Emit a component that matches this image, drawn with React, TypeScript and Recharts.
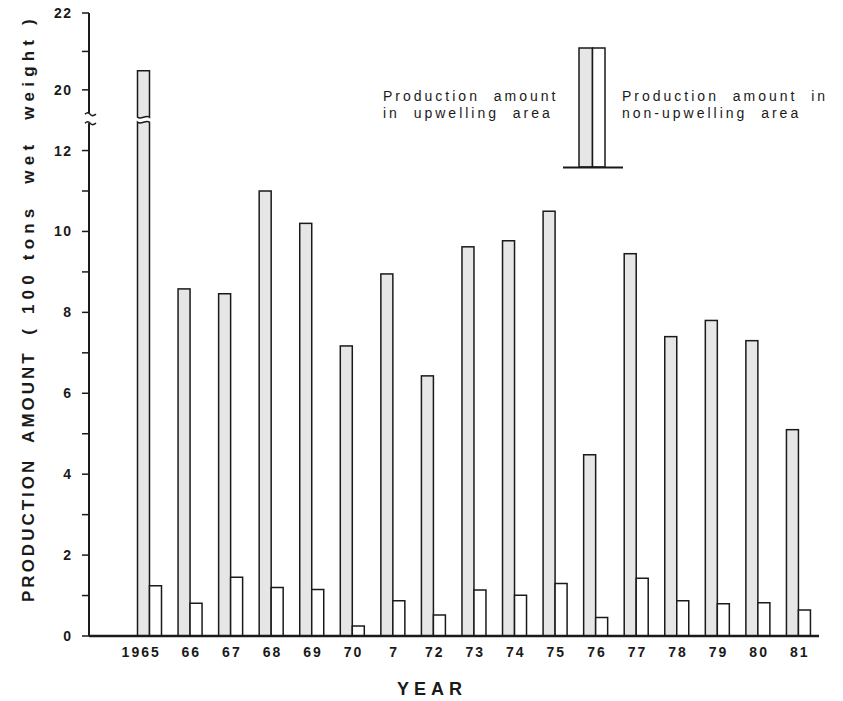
import React from 'react';
import { BarChart, Bar, XAxis, YAxis, Legend } from 'recharts';

const years = ['1965', '66', '67', '68', '69', '70', '7', '72', '73', '74', '75', '76', '77', '78', '79', '80', '81'];
const upwelling = [20.5, 8.58, 8.46, 11.0, 10.2, 7.17, 8.95, 6.43, 9.62, 9.77, 10.5, 4.48, 9.45, 7.4, 7.8, 7.3, 5.1];
const nonUpwelling = [1.24, 0.81, 1.45, 1.2, 1.15, 0.25, 0.87, 0.52, 1.14, 1.01, 1.3, 0.46, 1.43, 0.87, 0.8, 0.82, 0.64];
const yTicks = [0, 1, 2, 3, 4, 5, 6, 7, 8, 9, 10, 11, 12, 20, 21, 22];

// the axis is broken between 12 and 20
const BREAK_AT = 12.8;
const toAxis = (v: number) => (v <= 13 ? v : 13.5 + (v - 20) * 0.95);

const UP_FILL = '#e6e6e6';
const INK = '#1a1a1a';
const FONT = '"Liberation Sans", Arial, sans-serif';

const data = years.map((year, i) => ({
  year,
  up: upwelling[i],
  upAxis: toAxis(upwelling[i]),
  non: nonUpwelling[i],
}));

const tickLabel = new Map(yTicks.map((v) => [toAxis(v), v]));

function YTick(props: any) {
  const { x, y, payload } = props;
  const axisX = x + 18;
  const v = payload.value;
  if (v === BREAK_AT) {
    return (
      <g>
        <rect x={axisX - 4} y={y - 5} width={8} height={10} fill="#fff" />
        <path d={`M${axisX - 4},${y - 4} q3,-3 5,0 t6,0`} stroke={INK} strokeWidth={1.5} fill="none" />
        <path d={`M${axisX - 4},${y + 5} q3,-3 5,0 t6,0`} stroke={INK} strokeWidth={1.5} fill="none" />
      </g>
    );
  }
  const raw = tickLabel.get(v);
  const showLabel = raw !== undefined && raw % 2 === 0;
  return (
    <g>
      <line x1={axisX - 7} x2={axisX} y1={y} y2={y} stroke={INK} strokeWidth={1.5} />
      {showLabel && (
        <text x={x + 1.5} y={y + 5} textAnchor="end" fontFamily={FONT} fontWeight="bold" fontSize={14} letterSpacing={1.5} fill={INK}>
          {raw}
        </text>
      )}
    </g>
  );
}

function XTick(props: any) {
  const { x, y, payload } = props;
  const label = String(payload.value);
  if (label.length === 4) {
    return (
      <text x={x + 11} y={y + 21} textAnchor="end" fontFamily={FONT} fontWeight="bold" fontSize={14} letterSpacing={2} fill={INK}>
        {label}
      </text>
    );
  }
  return (
    <text x={x + 1} y={y + 21} textAnchor="middle" fontFamily={FONT} fontWeight="bold" fontSize={14} letterSpacing={2} fill={INK}>
      {label}
    </text>
  );
}

function BrokenBar(props: any) {
  const { x, y, width, height, payload, fill } = props;
  if (!height || height <= 0) return null;
  if (payload.up <= 13) {
    return <rect x={x} y={y} width={width} height={height} fill={fill} stroke={INK} strokeWidth={1.5} />;
  }
  const perUnit = height / payload.upAxis;
  const bottom = y + height;
  const by = bottom - BREAK_AT * perUnit;
  const top1 = by - 1;
  const top2 = by + 4;
  const wave = (yy: number) => `C${x + width * 0.7},${yy - 3} ${x + width * 0.3},${yy + 3} ${x},${yy}`;
  return (
    <g>
      <path d={`M${x},${y} L${x + width},${y} L${x + width},${top1} ${wave(top1)} Z`} fill={fill} stroke={INK} strokeWidth={1.5} />
      <path d={`M${x},${bottom} L${x + width},${bottom} L${x + width},${top2} ${wave(top2)} Z`} fill={fill} stroke={INK} strokeWidth={1.5} />
    </g>
  );
}

function LegendKey() {
  const t = { fontFamily: FONT, fontSize: 14, letterSpacing: 3, fill: INK, style: { whiteSpace: 'pre' as const } };
  return (
    <svg width={470} height={140}>
      <text x={13} y={61} {...t}>Production  amount</text>
      <text x={13} y={78} {...t}>in  upwelling  area</text>
      <rect x={209} y={8} width={13.5} height={119} fill={UP_FILL} stroke={INK} strokeWidth={1.5} />
      <rect x={222.5} y={8} width={12.5} height={119} fill="#fff" stroke={INK} strokeWidth={1.5} />
      <line x1={193} x2={253} y1={127.5} y2={127.5} stroke={INK} strokeWidth={2} />
      <text x={252} y={61} {...t}>Production  amount  in</text>
      <text x={252} y={78} {...t}>non-upwelling  area</text>
    </svg>
  );
}

function YLabel() {
  return (
    <text
      transform="translate(34, 308) rotate(-90)"
      textAnchor="middle"
      fontFamily={FONT}
      fontWeight="bold"
      fill={INK}
      style={{ whiteSpace: 'pre' }}
    >
      <tspan fontSize={17} letterSpacing={3}>PRODUCTION  AMOUNT  </tspan>
      <tspan fontSize={17} letterSpacing={5.2}>( 100 tons  wet  weight )</tspan>
    </text>
  );
}

export default function App() {
  return (
    <div style={{ position: 'absolute', left: 0, top: 0, width: 843, height: 701, background: '#fff' }}>
      <BarChart
        width={843}
        height={701}
        data={data}
        margin={{ top: 13, right: 24, bottom: 0, left: 0 }}
        barSize={12}
        barGap={0}
      >
        <XAxis
          dataKey="year"
          height={65}
          padding={{ left: 40.5, right: 0 }}
          tickLine={false}
          tickSize={0}
          tickMargin={0}
          interval={0}
          axisLine={{ stroke: INK, strokeWidth: 2.5 }}
          tick={<XTick />}
          label={{
            content: () => (
              <text x={432} y={695} textAnchor="middle" fontFamily={FONT} fontWeight="bold" fontSize={18} letterSpacing={5} fill={INK}>
                YEAR
              </text>
            ),
          }}
        />
        <YAxis
          type="number"
          width={89}
          domain={[0, toAxis(22)]}
          ticks={[...yTicks.map(toAxis), BREAK_AT]}
          interval={0}
          tickSize={7}
          tickMargin={11}
          tickLine={false}
          axisLine={{ stroke: INK, strokeWidth: 2 }}
          tick={<YTick />}
          label={{ content: () => <YLabel /> }}
        />
        <Legend
          layout="horizontal"
          verticalAlign="middle"
          align="center"
          content={() => <LegendKey />}
          wrapperStyle={{ left: 370, top: 40, width: 470, height: 140 }}
        />
        <Bar dataKey="upAxis" name="Production amount in upwelling area" fill={UP_FILL} shape={<BrokenBar />} isAnimationActive={false} />
        <Bar dataKey="non" name="Production amount in non-upwelling area" fill="#fff" stroke={INK} strokeWidth={1.5} isAnimationActive={false} />
      </BarChart>
    </div>
  );
}
